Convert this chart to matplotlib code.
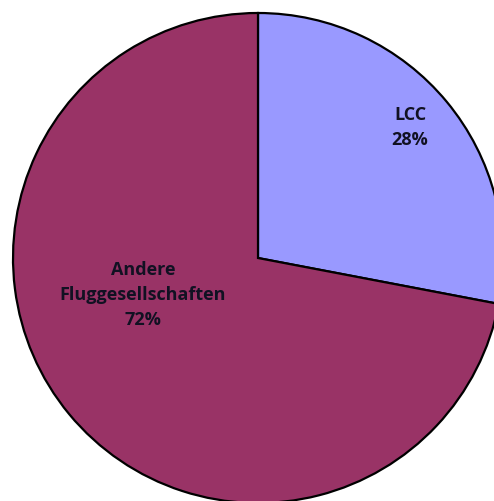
import matplotlib.pyplot as plt

kategorien = ["LCC", "Andere\nFluggesellschaften"]
anteile = [28, 72]
farben = ["#9999FF", "#993366"]

fig = plt.figure(figsize=(4.94, 5.01), dpi=100)
ax = fig.add_axes([0, 0, 1, 1])

mitte = (258, 501 - 258)
radius = 245
ax.pie(anteile, colors=farben, startangle=90, counterclock=False,
       center=mitte, radius=radius, frame=True,
       wedgeprops=dict(edgecolor="black", linewidth=1.6))

# Beschriftungspositionen relativ zur Mitte
pos = [(152, 131), (-115, -37)]
for name, wert, (dx, dy) in zip(kategorien, anteile, pos):
    ax.text(mitte[0] + dx, mitte[1] + dy, f"{name}\n{wert}%",
            ha="center", va="center", fontsize=13, fontweight="bold",
            family="Open Sans", color="#111122", linespacing=1.5)

ax.set_xlim(0, 494)
ax.set_ylim(0, 501)
ax.set_aspect("auto")
ax.axis("off")
fig.savefig("out.png", dpi=100)
